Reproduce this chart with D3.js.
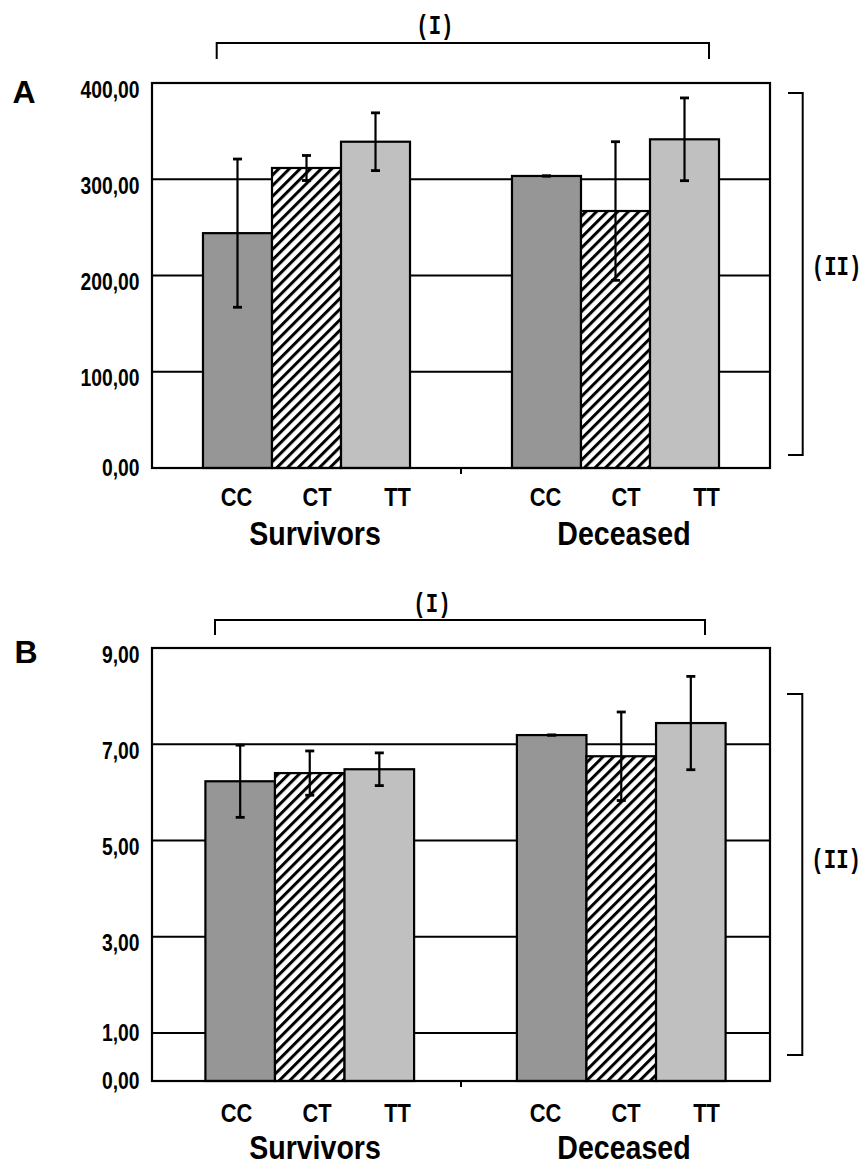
<!DOCTYPE html>
<html>
<head>
<meta charset="utf-8">
<script src="https://cdn.jsdelivr.net/npm/d3@7"></script>
<style>
  body { margin: 0; background: #fff; }
  svg { display: block; }
</style>
</head>
<body>
<div id="chart"></div>
<script>
// data
const groups = ["Survivors", "Deceased"];
const genotypes = ["CC", "CT", "TT"];

const aSurvivorsMean = [244, 311.7, 339];
const aSurvivorsErr = [77, 13, 30];
const aDeceasedMean = [303.4, 267, 341.5];
const aDeceasedErr = [0, 72, 43];
const aTicks = [0, 100, 200, 300, 400];

const bSurvivorsMean = [6.23, 6.40, 6.48];
const bSurvivorsErr = [0.75, 0.46, 0.34];
const bDeceasedMean = [7.19, 6.75, 7.44];
const bDeceasedErr = [0, 0.92, 0.97];
const bTicks = [0, 1, 3, 5, 7, 9];

const width = 867, height = 1166;
const frameLeft = 152, frameRight = 770;
const fills = { CC: "#969696", CT: "url(#hatch)", TT: "#c0c0c0" };
const labelFont = "'Liberation Sans', Arial, sans-serif";
const monoFont = "'Liberation Mono', 'Courier New', monospace";
const narrow = 0.84;

const fmt = d3.formatLocale({ decimal: ",", thousands: ".", grouping: [3], currency: ["", ""] }).format(".2f");

const panels = [
  {
    letter: "A", top: 83, bottom: 468, domain: [0, 400], ticks: aTicks,
    mean: [aSurvivorsMean, aDeceasedMean], err: [aSurvivorsErr, aDeceasedErr],
    barRange: [152, 770], letterY: 103,
    bI: { x0: 216.7, x1: 709, y: 43, leg: 59, textY: 26 },
    bII: { x: 802.7, y0: 93, y1: 455, hook: 788, textY: 267 },
    genoDy: 38, groupDy: 77
  },
  {
    letter: "B", top: 648, bottom: 1081, domain: [0, 9], ticks: bTicks,
    mean: [bSurvivorsMean, bDeceasedMean], err: [bSurvivorsErr, bDeceasedErr],
    barRange: [154, 777], letterY: 663,
    bI: { x0: 215, x1: 705, y: 620, leg: 635, textY: 604 },
    bII: { x: 802.3, y0: 694, y1: 1055, hook: 787, textY: 860 },
    genoDy: 41, groupDy: 78
  }
];

const svg = d3.select("#chart").append("svg")
  .attr("width", width)
  .attr("height", height);

const defs = svg.append("defs");
const pat = defs.append("pattern")
  .attr("id", "hatch")
  .attr("patternUnits", "userSpaceOnUse")
  .attr("width", 7.5)
  .attr("height", 7.5)
  .attr("patternTransform", "rotate(45)");
pat.append("rect").attr("width", 7.5).attr("height", 7.5).attr("fill", "#fff");
pat.append("line")
  .attr("x1", 1.5).attr("y1", 0).attr("x2", 1.5).attr("y2", 7.5)
  .attr("stroke", "#000").attr("stroke-width", 3);

// narrow bold text: Liberation Sans squeezed horizontally
function narrowText(g, x, y, txt, size, anchor) {
  g.append("g")
    .attr("transform", `translate(${x},${y}) scale(${narrow},1)`)
    .append("text")
    .attr("text-anchor", anchor)
    .style("font-family", labelFont)
    .style("font-weight", "bold")
    .style("font-size", size + "px")
    .attr("fill", "#000")
    .text(txt);
}

function monoText(g, x, y, txt, anchor) {
  g.append("g")
    .attr("transform", `translate(${x},${y}) scale(0.74,1)`)
    .append("text")
    .attr("text-anchor", anchor)
    .attr("dominant-baseline", "central")
    .style("font-family", monoFont)
    .style("font-weight", "bold")
    .style("font-size", "28px")
    .attr("fill", "#000")
    .text(txt);
}

panels.forEach(p => {
  const g = svg.append("g");
  const y = d3.scaleLinear().domain(p.domain).range([p.bottom, p.top]);
  const xFrame = d3.scaleBand().domain(groups).range([frameLeft, frameRight]);
  const xBar = d3.scaleBand().domain(groups).range(p.barRange);
  const bw = xBar.bandwidth() * 0.67;
  const xInner = d3.scaleBand().domain(genotypes).range([-bw / 2, bw / 2]);
  const xLabel = d3.scalePoint().domain(genotypes).range([-70, 91]);

  // gridlines
  g.append("g").selectAll("line")
    .data(p.ticks.filter(t => t > p.domain[0] && t < p.domain[1]))
    .join("line")
    .attr("x1", frameLeft).attr("x2", frameRight)
    .attr("y1", d => y(d)).attr("y2", d => y(d))
    .attr("stroke", "#000").attr("stroke-width", 2);

  // bars
  const rows = [];
  groups.forEach((grp, gi) => {
    genotypes.forEach((gt, i) => {
      rows.push({ grp, gt, v: p.mean[gi][i], e: p.err[gi][i] });
    });
  });

  g.append("g").selectAll("rect")
    .data(rows)
    .join("rect")
    .attr("x", d => xBar(d.grp) + xBar.bandwidth() / 2 + xInner(d.gt))
    .attr("y", d => y(d.v))
    .attr("width", xInner.bandwidth())
    .attr("height", d => y(0) - y(d.v))
    .attr("fill", d => fills[d.gt])
    .attr("stroke", "#000")
    .attr("stroke-width", 2.2);

  // error bars
  const eb = g.append("g").attr("stroke", "#000").attr("stroke-width", 2.2);
  rows.forEach(d => {
    const cx = xBar(d.grp) + xBar.bandwidth() / 2 + xInner(d.gt) + xInner.bandwidth() / 2;
    const y0 = y(d.v - d.e), y1 = y(d.v + d.e);
    eb.append("line").attr("x1", cx).attr("x2", cx).attr("y1", y0).attr("y2", y1);
    eb.append("line").attr("x1", cx - 4.5).attr("x2", cx + 4.5).attr("y1", y0).attr("y2", y0).attr("stroke-width", 2.8);
    eb.append("line").attr("x1", cx - 4.5).attr("x2", cx + 4.5).attr("y1", y1).attr("y2", y1).attr("stroke-width", 2.8);
  });

  // frame
  g.append("rect")
    .attr("x", frameLeft).attr("y", p.top)
    .attr("width", frameRight - frameLeft).attr("height", p.bottom - p.top)
    .attr("fill", "none").attr("stroke", "#000").attr("stroke-width", 2.2);

  // middle tick on x axis
  g.append("line")
    .attr("x1", xFrame("Deceased")).attr("x2", xFrame("Deceased"))
    .attr("y1", p.bottom).attr("y2", p.bottom + 6)
    .attr("stroke", "#000").attr("stroke-width", 2);

  // y tick labels
  p.ticks.forEach(t => {
    const shift = t <= 1 ? 0 : 6.5;
    narrowText(g, 139.5, y(t) + shift + 8, fmt(t), 23, "end");
  });

  // genotype + group labels
  groups.forEach(grp => {
    const c = xFrame(grp) + xFrame.bandwidth() / 2;
    genotypes.forEach(gt => {
      narrowText(g, c + xLabel(gt), p.bottom + p.genoDy, gt, 26, "middle");
    });
    narrowText(g, c + 8.5, p.bottom + p.groupDy, grp, 34, "middle");
  });

  // panel letter
  g.append("text")
    .attr("x", p.letter === "A" ? 12.5 : 14.5)
    .attr("y", p.letterY)
    .style("font-family", labelFont)
    .style("font-weight", "bold")
    .style("font-size", "32px")
    .text(p.letter);

  // bracket (I)
  const br = g.append("g").attr("fill", "none").attr("stroke", "#000").attr("stroke-width", 2);
  br.append("path")
    .attr("d", `M${p.bI.x0},${p.bI.leg}V${p.bI.y}H${p.bI.x1}V${p.bI.leg}`);
  monoText(g, (p.bI.x0 + p.bI.x1) / 2 - 28, p.bI.textY, "(I)", "middle");

  // bracket (II)
  br.append("path")
    .attr("d", `M${p.bII.hook},${p.bII.y0}H${p.bII.x}V${p.bII.y1}H${p.bII.hook}`);
  monoText(g, p.bII.x + 9, p.bII.textY, "(II)", "start");
});
</script>
</body>
</html>
